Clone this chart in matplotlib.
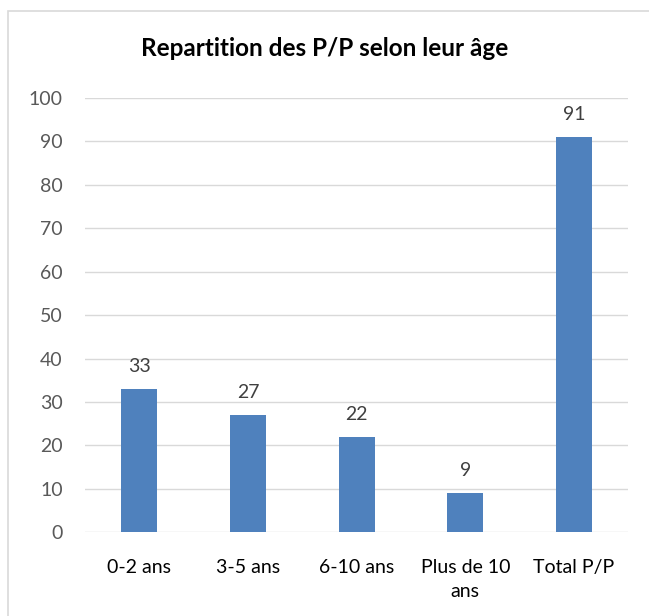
import matplotlib.pyplot as plt
from matplotlib.patches import Rectangle

categories = ['0-2 ans', '3-5 ans', '6-10 ans', 'Plus de 10\nans', 'Total P/P']
values = [33, 27, 22, 9, 91]
yticks = [0, 10, 20, 30, 40, 50, 60, 70, 80, 90, 100]

plt.rcParams['font.family'] = ['Lato', 'DejaVu Sans']

fig = plt.figure(figsize=(6.49, 6.16), dpi=100)
ax = fig.add_axes([0.131, 0.136, 0.837, 0.705])

# chart frame
fig.patches.append(Rectangle((8 / 649, -0.05), 1.0, 1 - 11 / 616 + 0.05,
                             transform=fig.transFigure, fill=False,
                             edgecolor='#d9d9d9', linewidth=1.2))

x = range(len(categories))
bars = ax.bar(x, values, width=0.33, color='#4f81bd', zorder=3)
for xi, v in zip(x, values):
    ax.text(xi, v + 3.2, str(v), ha='center', va='bottom', fontsize=14, color='#404040')

ax.set_xlim(-0.5, 4.5)
ax.set_ylim(0, 100)
ax.set_yticks(yticks)
ax.set_xticks(list(x))
ax.set_xticklabels(categories, fontsize=14, color='#000000', linespacing=1.55)
ax.tick_params(axis='y', labelsize=14, labelcolor='#595959', length=0, pad=16)
ax.tick_params(axis='x', length=0, pad=19)
ax.grid(axis='y', color='#d9d9d9', linewidth=1, zorder=0)
for s in ax.spines.values():
    s.set_visible(False)

fig.text(0.5, 1 - 48 / 616, 'Repartition des P/P selon leur âge', ha='center', va='center',
         fontsize=17.5, fontweight='bold', color='#000000')

fig.savefig('out.png', dpi=100)
